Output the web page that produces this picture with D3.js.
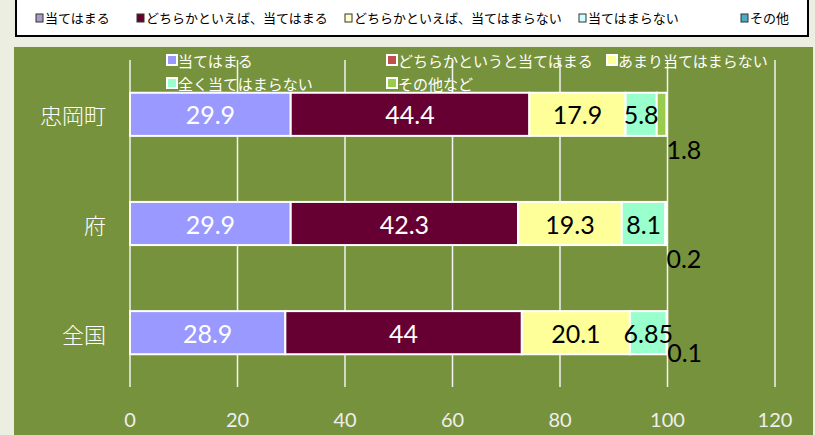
<!DOCTYPE html>
<html>
<head>
<meta charset="utf-8">
<script src="https://cdn.jsdelivr.net/npm/d3@7"></script>
<style>
  body{margin:0;background:#ECEEE2;}
  svg{display:block;}
</style>
</head>
<body>
<div id="Chart"></div>
<script>
// data
var categories = ["忠岡町", "府", "全国"]
var seriesNames = ["当てはまる", "どちらかというと当てはまる", "あまり当てはまらない", "全く当てはまらない", "その他など"]
var atehamaru    = [29.9, 29.9, 28.9]
var dochiraAte   = [44.4, 42.3, 44]
var amari        = [17.9, 19.3, 20.1]
var mattaku      = [5.8, 8.1, 6.85]
var sonota       = [1.8, 0.2, 0.1]
var xTicks = [0, 20, 40, 60, 80, 100, 120]
// legend strip at the top of the page (a different wording from the inner one)
var topLegend = ["当てはまる", "どちらかといえば、当てはまる", "どちらかといえば、当てはまらない", "当てはまらない", "その他"]

var Width = 815, Height = 435
var svg = d3.select("#Chart").append("svg")
    .attr("width", Width)
    .attr("height", Height)

var colors = ["#9999FF", "#660033", "#FFFF99", "#99FFCC", "#99CC4C"]
var topColors = ["#A99BC8", "#660033", "#FFFFCC", "#CCFFFF", "#4BACC6"]
var labelColors = ["#FFFFFF", "#FFFFFF", "#000000", "#000000", "#000000"]

// top legend box
svg.append("rect")
    .attr("x", 16).attr("y", -5)
    .attr("width", 792).attr("height", 41)
    .attr("fill", "#fff").attr("stroke", "#000").attr("stroke-width", 2)
var topX = [36, 137, 345, 579, 741]
var tl = svg.append("g").selectAll("g")
    .data(topLegend).enter().append("g")
    .attr("transform", (d, i) => `translate(${topX[i]},17)`)
tl.append("rect")
    .attr("x", 0).attr("y", -3).attr("width", 7).attr("height", 8)
    .attr("fill", (d, i) => topColors[i]).attr("stroke", "#333").attr("stroke-width", 1)
tl.append("text")
    .attr("x", 9).attr("y", 0)
    .attr("dominant-baseline", "central")
    .style("font-family", "'Noto Sans CJK JP'")
    .style("font-size", "13px")
    .attr("fill", "#000")
    .text(d => d)

// plot area
svg.append("rect")
    .attr("x", 14).attr("y", 47)
    .attr("width", 799).attr("height", 400)
    .attr("fill", "#77923C")

var X = d3.scaleLinear().domain([0, 120]).range([130, 775])
var Y = d3.scaleBand().domain(categories).range([60, 387])
    .paddingInner(0.605).paddingOuter(0.3)

// gridlines
svg.append("g").selectAll("line")
    .data(xTicks).enter().append("line")
    .attr("x1", d => X(d)).attr("x2", d => X(d))
    .attr("y1", 60).attr("y2", 387)
    .attr("stroke", "#F2F2F2").attr("stroke-width", 1.5)

// x axis labels
svg.append("g").selectAll("text")
    .data(xTicks).enter().append("text")
    .attr("x", d => X(d)).attr("y", 419)
    .attr("text-anchor", "middle")
    .attr("dominant-baseline", "central")
    .style("font-family", "Lato")
    .style("font-size", "20px")
    .attr("fill", "#EEEEEE")
    .text(d => d)

// category labels
svg.append("g").selectAll("text")
    .data(categories).enter().append("text")
    .attr("x", 106).attr("y", d => Y(d) + Y.bandwidth() / 2)
    .attr("text-anchor", "end")
    .attr("dominant-baseline", "central")
    .style("font-family", "'Noto Sans CJK JP'")
    .style("font-size", "22px")
    .style("font-weight", 300)
    .attr("fill", "#fff")
    .text(d => d)

// inner legend
var legPos = [[167, 60], [387, 60], [607, 60], [167, 83], [387, 83]]
var lg = svg.append("g").selectAll("g")
    .data(seriesNames).enter().append("g")
    .attr("transform", (d, i) => `translate(${legPos[i][0]},${legPos[i][1]})`)
lg.append("rect")
    .attr("x", 0).attr("y", -5).attr("width", 10).attr("height", 10)
    .attr("fill", (d, i) => i == 1 ? "#C0504D" : colors[i])
    .attr("stroke", "#fff").attr("stroke-width", 2)
lg.append("text")
    .attr("x", 11).attr("y", 0)
    .attr("dominant-baseline", "central")
    .style("font-family", "'Noto Sans CJK JP'")
    .style("font-size", "15px")
    .attr("fill", "#fff")
    .text(d => d)

// stacked bars
var rows = categories.map((c, i) => ({
    cat: c, s0: atehamaru[i], s1: dochiraAte[i], s2: amari[i], s3: mattaku[i], s4: sonota[i]
}))
var keys = ["s0", "s1", "s2", "s3", "s4"]
var stacked = d3.stack().keys(keys)(rows)

var layers = svg.append("g").selectAll("g")
    .data(stacked).enter().append("g")
    .attr("fill", (d, i) => colors[i])
layers.selectAll("rect")
    .data(d => d).enter().append("rect")
    .attr("x", d => X(d[0]))
    .attr("y", d => Y(d.data.cat))
    .attr("width", d => X(d[1]) - X(d[0]))
    .attr("height", Y.bandwidth())
    .attr("stroke", "#fff").attr("stroke-width", 2)

// data labels
var otherDy = [35, 34, 19] // その他 labels sit below-right of the bar end
stacked.forEach((layer, k) => {
    svg.append("g").selectAll("text")
        .data(layer).enter().append("text")
        .attr("x", (d, i) => k == 4 ? X(d[1]) : X((d[0] + d[1]) / 2))
        .attr("y", (d, i) => Y(d.data.cat) + Y.bandwidth() / 2 + (k == 4 ? otherDy[i] : 0))
        .attr("text-anchor", k == 4 ? "start" : "middle")
        .attr("dominant-baseline", "central")
        .style("font-family", "Lato")
        .style("font-size", "25px")
        .attr("fill", labelColors[k])
        .text(d => d.data[keys[k]])
})
</script>
</body>
</html>
